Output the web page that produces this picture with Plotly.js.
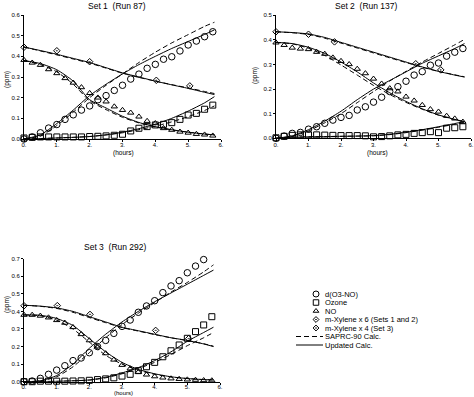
<!DOCTYPE html>
<html><head><meta charset="utf-8">
<script src="https://cdn.plot.ly/plotly-3.0.1.min.js"></script>
<style>html,body{margin:0;padding:0;background:#fff}#chart{width:474px;height:397px}</style>
</head><body><div id="chart"></div>
<script>
// ---- measured points (hours) ----
const obsHours = [0,0.25,0.5,0.75,1,1.25,1.5,1.75,2,2.25,2.5,2.75,3,3.25,3.5,3.75,4,4.25,4.5,4.75,5,5.25,5.5,5.75];
// model curves (hours)
const calcHours = [0,0.5,1,1.5,2,2.5,3,3.5,4,4.5,5,5.5,5.8];

// Set 1 (Run 87)
const s1_dO3NO = [0.0,0.01,0.03,0.053,0.07,0.095,0.117,0.14,0.16,0.19,0.21,0.235,0.26,0.29,0.314,0.342,0.361,0.386,0.398,0.426,0.455,0.474,0.495,0.519];
const s1_O3 = [0.005,0.008,0.01,0.01,0.01,0.01,0.01,0.01,0.012,0.013,0.015,0.018,0.023,0.039,0.052,0.06,0.068,0.071,0.079,0.095,0.116,0.124,0.144,0.164];
const s1_NO = [0.382,0.369,0.358,0.337,0.318,0.294,0.272,0.25,0.222,0.2,0.181,0.157,0.14,0.127,0.108,0.087,0.076,0.052,0.044,0.035,0.03,0.024,0.021,0.016];
const s1_xylHours = [0,1.0,2.0,4.03,5.05];
const s1_xyl = [0.444,0.427,0.374,0.284,0.257];
const s1_upd_dO3NO = [0,0.02,0.075,0.14,0.21,0.265,0.315,0.36,0.4,0.438,0.472,0.506,0.528];
const s1_sap_dO3NO = [0,0.015,0.065,0.13,0.2,0.26,0.315,0.37,0.42,0.465,0.505,0.545,0.565];
const s1_upd_NO = [0.38,0.365,0.335,0.28,0.19,0.15,0.11,0.08,0.06,0.045,0.033,0.024,0.02];
const s1_sap_NO = [0.38,0.36,0.325,0.265,0.185,0.142,0.105,0.078,0.058,0.044,0.033,0.024,0.02];
const s1_upd_O3 = [0,0.002,0.005,0.008,0.012,0.02,0.033,0.05,0.072,0.1,0.135,0.175,0.205];
const s1_sap_O3 = [0,0.002,0.005,0.008,0.012,0.02,0.03,0.045,0.062,0.083,0.108,0.138,0.16];
const s1_upd_xyl = [0.445,0.428,0.41,0.39,0.37,0.345,0.32,0.3,0.28,0.262,0.245,0.226,0.215];
const s1_sap_xyl = [0.445,0.426,0.407,0.387,0.367,0.343,0.318,0.298,0.28,0.263,0.247,0.23,0.22];

// Set 2 (Run 137)
const s2_dO3NO = [0.0,0.009,0.02,0.024,0.037,0.047,0.061,0.074,0.085,0.093,0.115,0.128,0.147,0.167,0.19,0.21,0.232,0.257,0.271,0.297,0.306,0.334,0.35,0.365];
const s2_O3 = [0.002,0.008,0.012,0.014,0.014,0.014,0.013,0.012,0.011,0.011,0.011,0.01,0.006,0.007,0.01,0.014,0.016,0.02,0.023,0.027,0.023,0.041,0.043,0.047];
const s2_NO = [0.389,0.379,0.368,0.364,0.362,0.351,0.343,0.328,0.314,0.301,0.282,0.264,0.242,0.222,0.203,0.19,0.169,0.153,0.135,0.118,0.108,0.091,0.08,0.067];
const s2_xylHours = [0,1.0,1.8,4.3,5.07];
const s2_xyl = [0.433,0.423,0.392,0.303,0.278];
const s2_upd_dO3NO = [0,0.01,0.035,0.07,0.11,0.157,0.2,0.235,0.27,0.305,0.335,0.365,0.385];
const s2_sap_dO3NO = [0,0.008,0.03,0.063,0.1,0.145,0.19,0.233,0.272,0.31,0.345,0.38,0.402];
const s2_upd_NO = [0.39,0.385,0.37,0.345,0.31,0.27,0.225,0.185,0.15,0.12,0.095,0.077,0.068];
const s2_sap_NO = [0.39,0.384,0.366,0.337,0.298,0.257,0.215,0.178,0.146,0.118,0.094,0.076,0.066];
const s2_upd_O3 = [0,0.004,0.006,0.007,0.008,0.009,0.011,0.016,0.025,0.035,0.047,0.06,0.068];
const s2_sap_O3 = [0,0.004,0.006,0.007,0.008,0.009,0.01,0.015,0.023,0.033,0.045,0.057,0.065];
const s2_upd_xyl = [0.433,0.43,0.424,0.41,0.39,0.37,0.35,0.33,0.31,0.29,0.272,0.257,0.249];
const s2_sap_xyl = [0.433,0.429,0.422,0.407,0.387,0.367,0.347,0.327,0.308,0.289,0.272,0.258,0.25];

// Set 3 (Run 292)
const s3_dO3NO = [0.0,0.004,0.019,0.042,0.066,0.091,0.12,0.135,0.165,0.2,0.235,0.275,0.315,0.351,0.395,0.431,0.461,0.507,0.545,0.575,0.62,0.658,0.695,null];
const s3_O3 = [0.0,0.0,0.003,0.003,0.003,0.003,0.004,0.005,0.008,0.012,0.016,0.022,0.032,0.042,0.063,0.085,0.11,0.142,0.176,0.209,0.247,0.285,0.323,0.37];
const s3_NO = [0.38,0.38,0.375,0.365,0.35,0.335,0.31,0.27,0.235,0.2,0.161,0.125,0.095,0.075,0.055,0.04,0.03,0.023,0.018,0.015,0.012,0.01,0.008,0.007];
const s3_xylHours = [0,1.02,2.02,4.03,5.04];
const s3_xyl = [0.432,0.433,0.383,0.292,0.245];
const s3_upd_dO3NO = [0,0.005,0.035,0.1,0.19,0.27,0.34,0.4,0.455,0.505,0.555,0.605,0.635];
const s3_sap_dO3NO = [0,0.004,0.028,0.085,0.165,0.25,0.325,0.39,0.45,0.51,0.565,0.625,0.665];
const s3_upd_NO = [0.38,0.378,0.36,0.32,0.245,0.17,0.11,0.07,0.045,0.028,0.018,0.012,0.01];
const s3_sap_NO = [0.38,0.376,0.35,0.3,0.225,0.15,0.1,0.065,0.042,0.027,0.018,0.012,0.01];
const s3_upd_O3 = [0,0.001,0.002,0.005,0.01,0.025,0.05,0.08,0.12,0.17,0.23,0.28,0.31];
const s3_sap_O3 = [0,0.001,0.002,0.005,0.009,0.022,0.045,0.075,0.11,0.155,0.205,0.25,0.28];
const s3_upd_xyl = [0.435,0.43,0.42,0.4,0.37,0.34,0.31,0.29,0.27,0.25,0.235,0.215,0.2];
const s3_sap_xyl = [0.435,0.429,0.417,0.395,0.365,0.336,0.308,0.288,0.268,0.25,0.234,0.216,0.202];

// tick labels / text
const xTickVals = [0,1,2,3,4,5,6];
const xTickText = ["0.","1.","2.","3.","4.","5.","6."];
const panelTitles = ["Set 1  (Run 87)","Set 2  (Run 137)","Set 3  (Run 292)"];
const legendLabels = ["d(O3-NO)","Ozone","NO","m-Xylene x 6 (Sets 1 and 2)","m-Xylene x 4 (Set 3)","SAPRC-90 Calc.","Updated Calc."];

// ---- build ----
const W = 474, H = 397;
const FONT = "Liberation Sans, Arial, sans-serif";
const SYM = {d:"circle-open", o3:"square-open", no:"triangle-up-open", xyl:"diamond-open-dot"};
const MSIZE = {d:6.5, o3:6, no:5.5, xyl:5};
const traces = [];
function pts(x, y, sym, size, ax){
  traces.push({type:"scatter", mode:"markers", x:x, y:y, xaxis:"x"+ax, yaxis:"y"+ax, cliponaxis:false,
    marker:{symbol:sym, size:size, color:"#000", line:{color:"#000", width:1}}, hoverinfo:"skip"});
}
function line(x, y, dash, ax){
  traces.push({type:"scatter", mode:"lines", x:x, y:y, xaxis:"x"+ax, yaxis:"y"+ax,
    line:{color:"#000", width:1, dash:dash, shape:"spline", smoothing:0.6}, hoverinfo:"skip"});
}
const sets = [
  {ax:"", d:s1_dO3NO, o3:s1_O3, no:s1_NO, xh:s1_xylHours, xy:s1_xyl,
   u:[s1_upd_dO3NO,s1_upd_NO,s1_upd_O3,s1_upd_xyl], s:[s1_sap_dO3NO,s1_sap_NO,s1_sap_O3,s1_sap_xyl]},
  {ax:"2", d:s2_dO3NO, o3:s2_O3, no:s2_NO, xh:s2_xylHours, xy:s2_xyl,
   u:[s2_upd_dO3NO,s2_upd_NO,s2_upd_O3,s2_upd_xyl], s:[s2_sap_dO3NO,s2_sap_NO,s2_sap_O3,s2_sap_xyl]},
  {ax:"3", d:s3_dO3NO, o3:s3_O3, no:s3_NO, xh:s3_xylHours, xy:s3_xyl,
   u:[s3_upd_dO3NO,s3_upd_NO,s3_upd_O3,s3_upd_xyl], s:[s3_sap_dO3NO,s3_sap_NO,s3_sap_O3,s3_sap_xyl]}
];
const DASH = "5px,3px";
sets.forEach(st=>{
  st.s.forEach(v=>line(calcHours, v, DASH, st.ax));
  st.u.forEach(v=>line(calcHours, v, "solid", st.ax));
  pts(obsHours, st.d, SYM.d, MSIZE.d, st.ax);
  pts(obsHours, st.o3, SYM.o3, MSIZE.o3, st.ax);
  pts(obsHours, st.no, SYM.no, MSIZE.no, st.ax);
  pts(st.xh, st.xy, SYM.xyl, MSIZE.xyl, st.ax);
});

// legend drawn in its own small axis (x in px from legend left, y in rows)
const legSyms = [SYM.d, SYM.o3, SYM.no, SYM.xyl, SYM.xyl];
const legSizes = [MSIZE.d, MSIZE.o3, MSIZE.no, MSIZE.xyl, MSIZE.xyl];
const LEG_MARK_X = 26, LEG_LINE_X0 = 6, LEG_LINE_X1 = 33, LEG_TEXT_X = 33;
legSyms.forEach((s,i)=>{
  traces.push({type:"scatter", mode:"markers", x:[LEG_MARK_X], y:[i], xaxis:"x4", yaxis:"y4",
    marker:{symbol:s, size:legSizes[i]-0.5, color:"#000", line:{color:"#000", width:1}}, hoverinfo:"skip"});
});
[[DASH,5],["solid",6]].forEach(([d,row])=>{
  traces.push({type:"scatter", mode:"lines", x:[LEG_LINE_X0, LEG_LINE_X1], y:[row,row], xaxis:"x4", yaxis:"y4",
    line:{color:"#000", width:1, dash:d}, hoverinfo:"skip"});
});

const px = v => v / W, py = v => 1 - v / H;
function xax(dom, standoff){
  return {domain:dom, range:[0,6], tickvals:xTickVals, ticktext:xTickText, showline:true, linecolor:"#000", linewidth:1,
    ticks:"outside", ticklen:2, tickwidth:1, tickcolor:"#000", showgrid:false, zeroline:false, ticklabelstandoff:standoff,
    tickfont:{family:FONT, size:6, color:"#000"}, fixedrange:true};
}
function yax(dom, top, anchor){
  return {domain:dom, range:[0, top], dtick:0.1, tickformat:".1f", showline:true, linecolor:"#000", linewidth:1,
    ticks:"outside", ticklen:2, tickwidth:1, tickcolor:"#000", showgrid:false, zeroline:false, anchor:anchor,
    tickfont:{family:FONT, size:6, color:"#000"}, fixedrange:true};
}
const annotations = [];
function ann(text, x, y, size, angle, extra){
  annotations.push(Object.assign({text:text, x:x, y:y, xref:"paper", yref:"paper", showarrow:false,
    font:{family:FONT, size:size, color:"#000"}, textangle:angle||0, xanchor:"center", yanchor:"middle"}, extra||{}));
}
ann(panelTitles[0], px(117), py(6), 8.5);
ann(panelTitles[1], px(366), py(6), 8.5);
ann(panelTitles[2], px(115), py(247), 8.5);
ann("(ppm)", px(7), py(80), 6.5, -90);
ann("(ppm)", px(255), py(76), 6.5, -90);
ann("(ppm)", px(7), py(305), 6.5, -90);
ann("(hours)", px(123), py(153), 6.5);
ann("(hours)", px(377), py(153), 6.5);
ann("(hours)", px(123), py(397), 6, 0, {yanchor:"bottom", borderpad:0});
legendLabels.forEach((t,i)=>{
  annotations.push({text:t, x:LEG_TEXT_X, y:i, xref:"x4", yref:"y4", showarrow:false, xanchor:"left", yanchor:"middle",
    font:{family:FONT, size:7.5, color:"#000"}});
});

const layout = {
  width:W, height:H, margin:{l:0,r:0,t:0,b:0}, showlegend:false,
  paper_bgcolor:"#fff", plot_bgcolor:"#fff",
  xaxis: Object.assign(xax([px(24), px(221)], -2), {anchor:"y"}),
  yaxis: yax([py(139), py(15)], 0.6, "x"),
  xaxis2: Object.assign(xax([px(276), px(471)], -2), {anchor:"y2"}),
  yaxis2: yax([py(138.3), py(15.3)], 0.5, "x2"),
  xaxis3: Object.assign(xax([px(24), px(220)], -3), {anchor:"y3"}),
  yaxis3: yax([py(381.7), py(258.7)], 0.7, "x3"),
  xaxis4: {domain:[px(290), 1], range:[0, 184], visible:false, fixedrange:true, anchor:"y4"},
  yaxis4: {domain:[py(350.1), py(288.9)], range:[6.6, -0.6], visible:false, fixedrange:true, anchor:"x4"},
  annotations: annotations
};
Plotly.newPlot("chart", traces, layout, {staticPlot:true, displayModeBar:false});
</script></body></html>
